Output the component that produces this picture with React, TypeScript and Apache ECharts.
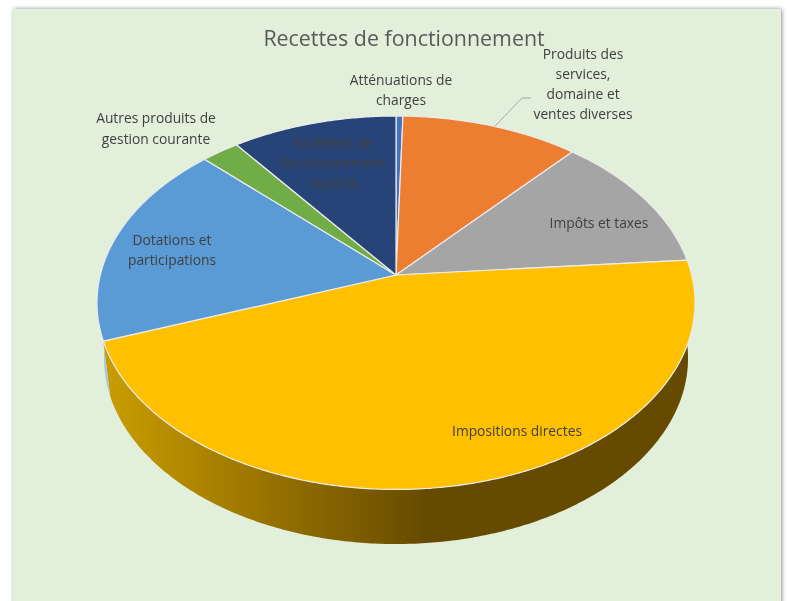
import React, { useEffect, useRef } from "react";
import * as echarts from "echarts";

const sliceNames = [
  "Atténuations de charges",
  "Produits des services, domaine et ventes diverses",
  "Impôts et taxes",
  "Impositions directes",
  "Dotations et participations",
  "Autres produits de gestion courante",
  "Excédent de fonctionnement reporté",
];
const sliceValues = [0.43, 11.08, 12.15, 45.7, 17.9, 2.36, 10.3];
const sliceColors = ["#4472c4", "#ed7d31", "#a5a5a5", "#ffc000", "#5b9bd5", "#70ad47", "#264478"];
const labelLines = [
  ["Atténuations de", "charges"],
  ["Produits des", "services,", "domaine et", "ventes diverses"],
  ["Impôts et taxes"],
  ["Impositions directes"],
  ["Dotations et", "participations"],
  ["Autres produits de", "gestion courante"],
  ["Excédent de", "fonctionnement", "reporté"],
];
const labelAnchors = [
  [401, 79, 20],
  [583, 53, 20],
  [599, 222, 20],
  [517, 430, 20],
  [172, 239, 20],
  [156, 117, 21],
  [333, 142, 20],
];

const FONT = '"Open Sans", sans-serif';
const TOTAL = sliceValues.reduce((a, b) => a + b, 0);
const K = 0.1486;
const TOP_DISC = { x0: 396, y0: 275, r: 295.7, s: 182.6 };
const BASE_DISC = { x0: 396, y0: 330.4, r: 288.8, s: 181.9 };

function project(d: typeof TOP_DISC, theta: number): number[] {
  const u = Math.sin(theta);
  const v = Math.cos(theta);
  const w = 1 + K * v;
  return [d.x0 + (d.r * u) / w, d.y0 - (d.s * v) / w];
}

function sliceRange(index: number): number[] {
  let before = 0;
  for (let i = 0; i < index; i++) before += sliceValues[i];
  return [(before / TOTAL) * Math.PI * 2, ((before + sliceValues[index]) / TOTAL) * Math.PI * 2];
}

function arc(d: typeof TOP_DISC, a: number, b: number): number[][] {
  const n = Math.max(2, Math.ceil(Math.abs(b - a) / 0.01));
  const pts: number[][] = [];
  for (let i = 0; i <= n; i++) pts.push(project(d, a + ((b - a) * i) / n));
  return pts;
}

function wallFill(index: number): any {
  if (index === 3) {
    return {
      type: "linear",
      x: 110,
      y: 0,
      x2: 430,
      y2: 0,
      global: true,
      colorStops: [
        { offset: 0, color: "#c89c00" },
        { offset: 0.5, color: "#977200" },
        { offset: 1, color: "#654a00" },
      ],
    };
  }
  if (index === 4) return "#a9c6dd";
  return "#e2efda";
}

export default function App() {
  const ref = useRef<HTMLDivElement>(null);
  useEffect(() => {
    const chart = echarts.init(ref.current!, undefined, { renderer: "svg" });
    const data = sliceNames.map((name, i) => ({ name, value: sliceValues[i] }));
    chart.setOption({
      animation: false,
      backgroundColor: "#ffffff",
      title: {
        text: "Recettes de fonctionnement",
        left: 399,
        top: 22,
        textAlign: "center",
        textStyle: { fontFamily: FONT, fontSize: 21.4, fontWeight: 400, color: "#595959" },
      },
      graphic: [
        {
          type: "rect",
          z: -10,
          shape: { x: 13, y: 9, width: 768, height: 610 },
          style: {
            fill: "#e2efda",
            shadowBlur: 4,
            shadowOffsetX: 1,
            shadowColor: "rgba(0,0,0,0.45)",
          },
        },
      ],
      series: [
        {
          type: "custom",
          coordinateSystem: "none",
          z: 1,
          silent: true,
          data,
          renderItem: (params: any) => {
            const i = params.dataIndex;
            const [a, b] = sliceRange(i);
            if (i !== 3 && i !== 4) return { type: "group", children: [] };
            const pts = arc(TOP_DISC, a, b).concat(arc(BASE_DISC, a, b).reverse());
            return {
              type: "polygon",
              shape: { points: pts },
              style: { fill: wallFill(i), stroke: null },
            };
          },
        },
        {
          type: "custom",
          coordinateSystem: "none",
          z: 2,
          silent: true,
          data,
          renderItem: (params: any) => {
            const i = params.dataIndex;
            const [a, b] = sliceRange(i);
            const pts = [[TOP_DISC.x0, TOP_DISC.y0]].concat(arc(TOP_DISC, a, b));
            return {
              type: "polygon",
              shape: { points: pts },
              style: { fill: sliceColors[i], stroke: "#ececec", lineWidth: 1.2, lineJoin: "round" },
            };
          },
        },
        {
          type: "custom",
          coordinateSystem: "none",
          z: 3,
          silent: true,
          data,
          renderItem: (params: any) => {
            const i = params.dataIndex;
            const [x, y, lh] = labelAnchors[i];
            const children: any[] = labelLines[i].map((line, n) => ({
              type: "text",
              style: {
                text: line,
                x,
                y: y + n * lh,
                align: "center",
                verticalAlign: "middle",
                fontFamily: FONT,
                fontSize: 13.8,
                fill: "#404040",
              },
            }));
            if (i === 1) {
              const [a, b] = sliceRange(i);
              const anchor = project(TOP_DISC, a + (b - a) * 0.52);
              children.push({
                type: "polyline",
                shape: { points: [anchor, [522, 98], [531, 98]] },
                style: { stroke: "#a6a6a6", lineWidth: 1, fill: null },
              });
            }
            return { type: "group", children };
          },
        },
      ],
    });
    return () => chart.dispose();
  }, []);
  return (
    <div
      ref={ref}
      style={{ position: "absolute", left: 0, top: 0, width: 791, height: 601, filter: "blur(0.7px)" }}
    />
  );
}
